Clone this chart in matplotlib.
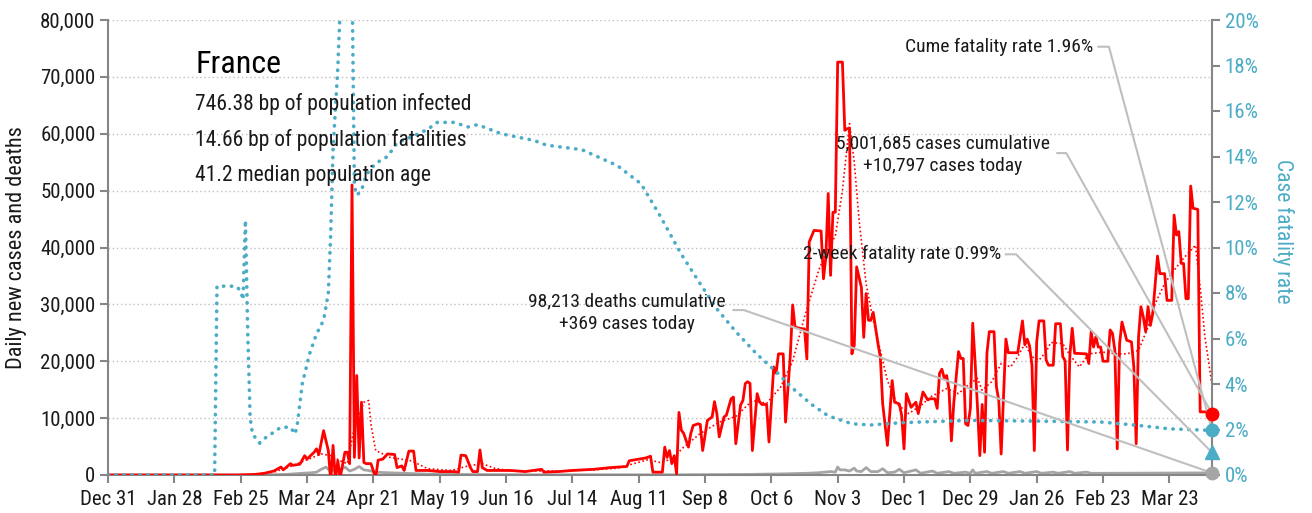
import numpy as np
import pandas as pd
import matplotlib
matplotlib.use('Agg')
import matplotlib.pyplot as plt
from matplotlib import font_manager as fm
from matplotlib.ticker import FuncFormatter, MultipleLocator

# pick a condensed font if there is one
def pick_font(names):
    for n in names:
        try:
            fm.findfont(fm.FontProperties(family=n), fallback_to_default=False)
            return n
        except Exception:
            pass
    return 'DejaVu Sans'

FONT = pick_font(['Liberation Sans Narrow', 'Roboto Condensed', 'Liberation Sans'])
plt.rcParams['font.family'] = [FONT, 'DejaVu Sans']

START = pd.Timestamp('2019-12-31')
END_DAY = 466

# daily new cases (thousands) as (day since Dec 31 2019, value)
cases_k = [
    (0, 0), (55, 0), (62, 0.1), (66, 0.3), (70, 0.7), (73, 1.4), (74, 0.9), (77, 2.0), (78, 1.7),
    (81, 1.9), (83, 3.4), (84, 2.8), (87, 4.0), (88, 4.6), (89, 3.6), (91, 7.8), (93, 4.3), (94, -1),
    (95, 5.2), (96, -1), (97, 2.5), (98, -0.5), (100, 4.0), (101, 4.0), (102, 2.0), (103, 51.0),
    (104, 3.1), (105, 17.5), (106, 3.0), (107, 12.8), (108, 2.2), (109, 2.0), (111, 2.0), (113, -0.5),
    (114, 2.6), (116, 2.8), (118, 3.7), (121, 3.6), (122, 1.3), (124, 1.6), (125, 0.8), (127, 4.2),
    (129, 4.2), (130, 0.8), (135, 0.8), (140, 0.6), (146, 0.6), (148, 0.5), (149, 3.5), (151, 3.4),
    (153, 1.3), (154, 0.6), (156, 0.6), (157, 4.4), (158, 1.3), (160, 0.8), (170, 0.8), (176, 0.6),
    (183, 1.0), (184, 0.5), (190, 0.6), (196, 0.8), (205, 1.0), (212, 1.3), (219, 1.5), (220, 2.5),
    (227, 3.0), (229, 3.3), (230, 0.5), (234, 0.5), (235, 4.9), (236, 3.1), (237, 4.3), (238, 2.0),
    (239, 3.4), (240, 0.2), (241, 11.0), (242, 7.9), (243, 7.3), (245, 4.9), (246, 7.3), (247, 8.7),
    (249, 9.0), (250, 8.9), (251, 4.3), (253, 9.6), (254, 9.9), (255, 10.2), (256, 12.9), (257, 10.8),
    (258, 6.7), (260, 10.2), (261, 10.5), (263, 13.4), (264, 13.7), (265, 5.5), (267, 12.3), (268, 13.1),
    (269, 16.1), (270, 16.4), (271, 16.1), (272, 4.3), (274, 14.3), (275, 12.9), (276, 12.4), (278, 12.4),
    (279, 5.8), (281, 19.0), (282, 17.9), (283, 21.3), (285, 21.3), (286, 9.3), (288, 21.0), (289, 29.9),
    (290, 26.0), (293, 25.7), (294, 25.7), (295, 20.4), (296, 41.0), (298, 43.0), (301, 42.9), (302, 34.5),
    (303, 38.3), (304, 49.5), (305, 35.1), (306, 46.2), (307, 46.2), (308, 72.6), (310, 72.6), (311, 60.6),
    (312, 60.9), (313, 60.9), (314, 21.3), (315, 22.8), (316, 36.6), (318, 33.0), (319, 24.2), (320, 31.9),
    (321, 27.2), (322, 27.2), (323, 28.6), (325, 23.1), (326, 20.7), (327, 12.5), (329, 5.2), (331, 16.6),
    (332, 12.8), (334, 12.5), (335, 10.5), (336, 4.6), (337, 14.3), (339, 11.9), (341, 12.8), (342, 10.8),
    (344, 14.6), (346, 13.2), (347, 13.4), (349, 13.4), (350, 11.7), (351, 17.9), (352, 18.6), (353, 17.0),
    (354, 17.5), (355, 14.9), (356, 6.0), (357, 12.6), (359, 21.7), (360, 20.5), (361, 20.5), (362, 9.0),
    (363, 8.7), (364, 11.7), (365, 26.7), (366, 19.9), (367, 12.0), (368, 3.4), (369, 12.4), (370, 4.0),
    (371, 21.4), (372, 25.2), (374, 25.2), (375, 15.5), (376, 13.1), (377, 3.7), (379, 23.9), (380, 21.5),
    (384, 21.5), (386, 27.1), (387, 22.9), (388, 23.9), (389, 22.7), (390, 19.3), (391, 4.3), (392, 23.4),
    (393, 27.1), (395, 27.1), (396, 20.2), (397, 19.3), (399, 19.3), (400, 26.6), (402, 26.6), (403, 20.8),
    (404, 20.1), (405, 4.4), (406, 21.1), (407, 25.8), (408, 21.4), (413, 21.3), (414, 19.6), (415, 25.2),
    (416, 22.5), (417, 24.3), (418, 22.5), (419, 22.5), (420, 20.0), (422, 20.0), (423, 25.5), (424, 24.9),
    (425, 21.9), (426, 4.6), (427, 23.1), (428, 26.9), (430, 23.7), (432, 23.4), (433, 19.0), (434, 5.5),
    (435, 24.3), (436, 29.6), (437, 27.8), (438, 25.2), (439, 29.6), (440, 26.3), (441, 28.4), (443, 38.5),
    (444, 35.4), (446, 35.4), (447, 30.7), (449, 30.7), (450, 45.7), (451, 42.2), (452, 42.8), (453, 37.2),
    (454, 37.2), (455, 31.0), (456, 31.0), (457, 50.8), (458, 46.9), (460, 46.7), (461, 11.1), (464, 11.1),
    (466, 10.8),
]

# 7-day average of cases (thousands)
avg_k = [
    (0, 0), (60, 0), (70, 0.5), (77, 1.5), (83, 2.5), (90, 3.7), (94, 3.4), (98, 2.5), (101, 2.0),
    (104, 8.4), (108, 12.8), (110, 13.1), (111, 8.9), (113, 4.3), (119, 3.1), (128, 2.5), (135, 1.1),
    (145, 0.8), (152, 1.6), (158, 2.0), (163, 1.2), (170, 0.7), (190, 0.7), (205, 0.9), (215, 1.2),
    (222, 2.0), (228, 2.7), (233, 2.2), (238, 2.8), (243, 4.9), (250, 7.3), (258, 9.3), (265, 10.3),
    (272, 13.1), (278, 12.6), (284, 15.5), (289, 20.0), (294, 27.8), (300, 36.0), (304, 40.0),
    (307, 42.0), (310, 50.0), (313, 61.8), (315, 55.0), (317, 45.0), (320, 33.6), (323, 27.2),
    (326, 21.9), (329, 16.6), (333, 12.5), (338, 10.8), (344, 12.5), (347, 13.7), (354, 15.2),
    (359, 14.3), (363, 15.8), (367, 17.0), (369, 14.9), (373, 16.4), (377, 19.6), (381, 19.0),
    (384, 20.8), (387, 23.1), (390, 20.8), (393, 20.2), (396, 21.7), (398, 23.3), (403, 23.1),
    (406, 21.1), (410, 19.0), (414, 21.3), (420, 21.6), (426, 21.3), (430, 21.3), (435, 21.9),
    (439, 26.0), (442, 30.1), (446, 33.7), (450, 36.0), (454, 38.1), (459, 40.4), (461, 33.1),
    (463, 24.3), (466, 15.8),
]

# daily deaths (thousands)
deaths_k = [
    (0, 0), (65, 0), (75, 0.1), (82, 0.3), (86, 0.4), (88, 0.5), (90, 1.0), (92, 1.4), (94, 0.6),
    (96, 1.1), (98, 0.9), (100, 1.4), (102, 0.7), (104, 1.0), (106, 1.5), (108, 0.9), (110, 0.8),
    (113, 0.5), (118, 0.4), (125, 0.3), (135, 0.15), (150, 0.08), (180, 0.03), (240, 0.03), (270, 0.1),
    (285, 0.2), (295, 0.3), (300, 0.4), (305, 0.6), (307, 0.5), (308, 1.4), (309, 0.9), (311, 0.9),
    (313, 0.7), (315, 1.2), (316, 0.7), (318, 0.6), (320, 1.3), (322, 0.6), (325, 0.6), (327, 1.1),
    (329, 0.4), (332, 0.5), (334, 1.0), (336, 0.4), (341, 0.9), (343, 0.3), (348, 0.7), (350, 0.3),
    (355, 0.6), (357, 0.3), (362, 0.5), (364, 0.3), (365, 0.9), (366, 0.3), (371, 0.6), (373, 0.3),
    (378, 0.6), (380, 0.3), (385, 0.6), (387, 0.3), (392, 0.6), (394, 0.3), (399, 0.5), (401, 0.3),
    (406, 0.6), (408, 0.3), (413, 0.5), (415, 0.3), (420, 0.3), (466, 0.37),
]

# cumulative case fatality rate (%)
cfr_pct = [
    (0, 0), (45, 0), (46, 8.3), (54, 8.3), (56, 8.1), (57, 7.7), (58, 11.2), (59, 6.2), (60, 2.5),
    (61, 1.8), (64, 1.4), (66, 1.6), (73, 2.1), (77, 2.1), (79, 1.8), (80, 2.3), (82, 4.0), (85, 5.3),
    (88, 6.2), (91, 6.8), (93, 8.0), (94, 10.6), (95, 14.3), (97, 17.9), (98, 20.5), (99, 28.0),
    (102, 28.0), (103, 22.0), (104, 12.7), (105, 12.3), (107, 12.5), (109, 13.2), (113, 13.7),
    (118, 14.0), (122, 14.6), (129, 14.9), (135, 15.2), (139, 15.5), (146, 15.5), (152, 15.3),
    (156, 15.4), (166, 15.0), (180, 14.7), (185, 14.5), (200, 14.3), (215, 13.6), (225, 12.8),
    (233, 11.4), (242, 9.7), (250, 8.4), (257, 7.3), (265, 6.3), (274, 5.3), (283, 4.45), (288, 3.9),
    (297, 3.1), (304, 2.6), (314, 2.25), (322, 2.2), (335, 2.3), (349, 2.35), (363, 2.4), (391, 2.37),
    (419, 2.33), (433, 2.2), (448, 2.03), (466, 1.96),
]

two_week_cfr = 0.99
tick_every = 28

RED = '#ff0000'
TEAL = '#4bacc6'
GRAY = '#a5a5a5'
LEAD = '#bfbfbf'
AX = '#868686'
TXT = '#1a1a1a'


def series(pairs, scale=1.0):
    d, v = zip(*pairs)
    return START + pd.to_timedelta(list(d), unit='D'), np.array(v) * scale


cx, cy = series(cases_k, 1000)
ax_, ay = series(avg_k, 1000)
dx, dy = series(deaths_k, 1000)
fx, fy = series(cfr_pct)
end = START + pd.Timedelta(days=END_DAY)

fig = plt.figure(figsize=(13.12, 5.13), dpi=100)
ax = fig.add_axes([108 / 1312, 38 / 513, 1104 / 1312, 455 / 513])
ax2 = ax.twinx()

ax.plot(dx, dy, color=GRAY, lw=2, zorder=2)
ax.plot(ax_, ay, color=RED, lw=1.2, ls=(0, (1, 1.5)), zorder=3)
ax.plot(cx, cy, color=RED, lw=2, zorder=4)

ax2.plot(fx, fy, color=TEAL, lw=2.6, ls=(0, (0.1, 2.1)), dash_capstyle='round', zorder=3)

ax.set_ylim(0, 80000)
ax2.set_ylim(0, 20)
ax.set_xlim(START, end)

# grid and axes
ax.yaxis.set_major_locator(MultipleLocator(10000))
ax.yaxis.set_major_formatter(FuncFormatter(lambda v, p: f'{v:,.0f}'))
ax.grid(axis='y', color=LEAD, ls=(0, (1, 2)), lw=1)
ax.set_axisbelow(True)
ax2.yaxis.set_major_locator(MultipleLocator(2))
ax2.yaxis.set_major_formatter(FuncFormatter(lambda v, p: f'{v:.0f}%'))

ticks = pd.date_range(START, end, freq=f'{tick_every}D')
ax.set_xticks(ticks)
ax.set_xticklabels([f'{d:%b} {d.day}' for d in ticks])

for a in (ax, ax2):
    for s in a.spines.values():
        s.set_color(AX)
        s.set_linewidth(1.5)
    a.spines['top'].set_visible(False)
ax.spines['right'].set_visible(False)
ax2.spines['left'].set_visible(False)
ax2.spines['bottom'].set_visible(False)

ax.tick_params(axis='both', colors=AX, labelcolor=TXT, labelsize=15, length=6, width=1.5)
ax.tick_params(axis='x', pad=5)
ax.tick_params(axis='y', pad=3)
ax2.tick_params(axis='y', colors=AX, labelcolor=TEAL, labelsize=15, length=6, width=1.5, pad=3)

ax.set_ylabel('Daily new cases and deaths', fontsize=16, color=TXT)
ax.yaxis.set_label_coords(-0.0735, 0.5)
ax2.set_ylabel('Case fatality rate', fontsize=15.5, color=TEAL, rotation=270)
ax2.yaxis.set_label_coords(1.074, 0.535)

# leader lines and end markers (drawn in left-axis data units on the top axes)
T = ax.transData
last_case = cy[-1]
last_death = dy[-1]
last_cfr = fy[-1] * 4000
two_wk = two_week_cfr * 4000


def day(n):
    return START + pd.Timedelta(days=n)


leaders = [
    ((418, 75300), (422.5, 75300), last_cfr),
    ((400.7, 56600), (404.5, 56600), last_case),
    ((379, 38800), (383.3, 38800), two_wk),
    ((264, 29000), (268.4, 29000), last_death),
]
for (d0, y0), (d1, y1), yend in leaders:
    ax2.plot([day(d0), day(d1), end], [y0, y1, yend], color=LEAD, lw=1.5, transform=T,
             zorder=5, clip_on=False)

ax2.plot([end], [last_case], 'o', color=RED, ms=9, transform=T, zorder=6, clip_on=False)
ax2.plot([end], [fy[-1]], 'o', color=TEAL, ms=9, zorder=6, clip_on=False)
ax2.plot([end], [two_week_cfr], '^', color=TEAL, ms=10, zorder=6, clip_on=False)
ax2.plot([end], [last_death], 'o', color=GRAY, ms=9, transform=T, zorder=6, clip_on=False)

# text
ax2.text(day(36.8), 72100, 'France', fontsize=23, color='black', va='center', transform=T)
info = ['746.38 bp of population infected', '14.66 bp of population fatalities',
        '41.2 median population age']
for s, y in zip(info, [65200, 58900, 52700]):
    ax2.text(day(36.8), y, s, fontsize=15.5, color=TXT, va='center', transform=T)

ax2.text(day(416), 75300, 'Cume fatality rate 1.96%', fontsize=14, color=TXT,
         ha='right', va='center', transform=T)
ax2.text(day(352.5), 56300, '5,001,685 cases cumulative\n+10,797 cases today', fontsize=14,
         color=TXT, ha='center', va='center', linespacing=1.35, transform=T)
ax2.text(day(377), 38800, '2-week fatality rate 0.99%', fontsize=14, color=TXT,
         ha='right', va='center', transform=T)
ax2.text(day(219), 28600, '98,213 deaths cumulative\n+369 cases today', fontsize=14,
         color=TXT, ha='center', va='center', linespacing=1.35, transform=T)

fig.savefig('out.png', dpi=100)
